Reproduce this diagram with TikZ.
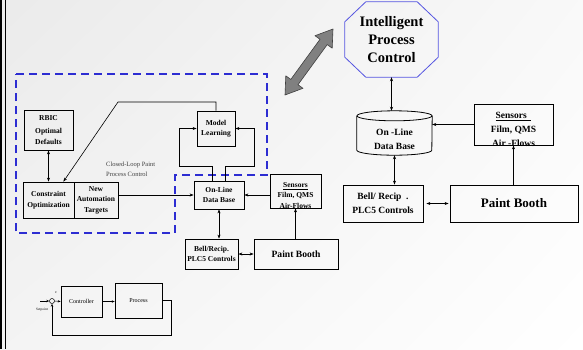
\documentclass[tikz,border=0pt]{standalone}
\usepackage{fontspec}
\setmainfont{Liberation Serif}
\usetikzlibrary{calc}
\usetikzlibrary{arrows.meta}
\usetikzlibrary{shadings}

\definecolor{loopblue}{RGB}{45,45,210}
\definecolor{ipcblue}{RGB}{85,85,225}

% font sizes
\newcommand\fipc{\fontsize{14.5}{18}\selectfont\bfseries}
\newcommand\fbooth{\fontsize{13}{15}\selectfont\bfseries}
\newcommand\fmid{\fontsize{9.5}{14}\selectfont\bfseries}
\newcommand\fsmall{\fontsize{7.5}{10.5}\selectfont\bfseries}
\newcommand\fnote{\fontsize{6.5}{10}\selectfont}
\newcommand\fblock{\fontsize{6}{7}\selectfont}

\tikzset{
  box/.style={draw, line width=0.8pt, inner sep=0pt, align=center},
  txt/.style={inner sep=0pt, align=center},
  flow/.style={line width=0.6pt, -{Stealth[length=4pt,width=3pt]}},
  flow2/.style={line width=0.6pt, {Stealth[length=4pt,width=3pt]}-{Stealth[length=4pt,width=3pt]}},
  flowsm/.style={line width=0.5pt, -{Stealth[length=3pt,width=2.4pt]}},
}

\begin{document}
\begin{tikzpicture}[x=1pt,y=-1pt]
  \useasboundingbox (0,0) rectangle (583,349);
  % slide background and left edge
  \shade[upper left=gray!16, upper right=gray!5, lower left=gray!9, lower right=white] (0,0) rectangle (583,349);
  \fill (0,0) rectangle (1.8,349);
  \fill (4.6,0) rectangle (6,349);

  %% right: intelligent process control
  \node[txt, minimum width=93pt, minimum height=75pt, font=\fipc] (ipc) at (391.5,39.5) {Intelligent\\Process\\Control};
  \draw[ipcblue, line width=0.8pt] ($(ipc.north west)+(21,0)$) -- ($(ipc.north east)+(-21,0)$)
    -- ($(ipc.north east)+(0,20)$) -- ($(ipc.south east)+(0,-20)$)
    -- ($(ipc.south east)+(-21,0)$) -- ($(ipc.south west)+(21,0)$)
    -- ($(ipc.south west)+(0,-20)$) -- ($(ipc.north west)+(0,20)$) -- cycle;

  % fat two-way arrow between the two halves
  \filldraw[fill=gray, draw=black!75, line width=0.6pt, line join=round]
    (333,29) -- (332.2,48.2) -- (327.2,44.6) -- (298.0,84.7) -- (303.0,88.3)
    -- (285,95) -- (285.8,75.8) -- (290.8,79.4) -- (320.0,39.3) -- (315.0,35.7) -- cycle;

  % data base cylinder
  \node[txt, minimum width=75pt, minimum height=44pt] (rdb) at (394.5,133) {};
  \draw[line width=0.8pt] ($(rdb.north west)+(0,5)$) -- ($(rdb.south west)+(0,-5)$)
    arc[start angle=180, end angle=360, x radius=37.5pt, y radius=5pt]
    -- ($(rdb.north east)+(0,5)$);
  \draw[line width=0.8pt] ($(rdb.north)+(0,5)$) ellipse [x radius=37.5pt, y radius=5pt];
  \node[txt, font=\fmid, text depth=0pt] (rdbtxt) at ($(rdb)+(0,6)$) {\fontsize{9.5}{16}\selectfont On -Line\\Data Base};

  \node[box, minimum width=79pt, minimum height=41pt] (rsens) at (513.5,124.5) {};
  \node[txt, font=\fmid] (rsenstxt) at ($(rsens)+(0,5)$) {\underline{Sensors\ \ }\\Film, QMS\\Air -Flows};
  \node[box, minimum width=80pt, minimum height=37pt, font=\fmid] (rbell) at (383,203.5) {\fontsize{9.5}{13}\selectfont Bell/ Recip\ \ .\\PLC5 Controls};
  \node[box, minimum width=128pt, minimum height=37pt, font=\fbooth] (rbooth) at (514,203.5) {Paint Booth};

  \draw[flow2] (ipc.south) -- (ipc.south |- rdb.north);
  \draw[flow] (rsens.west) -- (rsens.west -| rdb.east);
  \draw[flow2] (rdb.south) -- (rdb.south |- rbell.north);
  \draw[flow2, shorten <=3pt, shorten >=1pt] (rbell.east) -- (rbooth.west);
  \draw[flow] (rsens.south |- rbooth.north) -- (rsens.south);

  %% left: closed-loop paint process control
  \draw[loopblue, line width=2.4pt, dash pattern=on 8pt off 5pt]
    (16,74) -- (267,74) -- (267,175) -- (175,175) -- (175,233) -- (16,233) -- cycle;

  \node[box, minimum width=49pt, minimum height=40pt, font=\fsmall] (rbic) at (48.5,130) {\fontsize{7.5}{8.5}\selectfont RBIC\\[3pt]Optimal\\Defaults};
  \node[box, minimum width=51pt, minimum height=36pt, font=\fsmall] (copt) at (48.5,200) {\fontsize{7.5}{10}\selectfont Constraint\\Optimization};
  \node[box, minimum width=44pt, minimum height=36pt, font=\fsmall] (nat) at (96,200) {New\\Automation\\Targets};
  \node[box, minimum width=38pt, minimum height=35pt, font=\fsmall] (model) at (216,128.5) {\fontsize{7.5}{12}\selectfont Model\\Learning};
  \node[box, minimum width=50pt, minimum height=28pt, font=\fsmall] (ldb) at (219,195) {\fontsize{7.5}{12}\selectfont On-Line\\Data Base};
  \node[box, minimum width=51pt, minimum height=34pt] (lsens) at (295.5,191) {};
  \node[txt, font=\fsmall] (lsenstxt) at ($(lsens)+(0,4.5)$) {\fontsize{7.5}{11.5}\selectfont\underline{Sensors}\\Film, QMS\\Air-Flows};
  \node[box, minimum width=53pt, minimum height=30pt, font=\fsmall] (lbell) at (211.5,254) {\fontsize{7.5}{11}\selectfont Bell/Recip.\\PLC5 Controls};
  \node[box, minimum width=84pt, minimum height=30pt, font=\fontsize{9.6}{11}\selectfont\bfseries] (lbooth) at (296,254) {Paint Booth};

  \node[txt, anchor=west, align=left, font=\fnote, text=black!75] (cltxt) at (106,169) {Closed-Loop Paint\\Process Control};

  \coordinate (bend) at (118,102);
  \draw[flow2] (rbic.south) -- (rbic.south |- copt.north);
  \draw[flow] (model.north) |- (bend) -- ($(copt.north east)+(-11,0)$);
  \draw[flow] ($(ldb.north)+(-7,0)$) -- ++(0,-14) -| ($(model.west)+(-17,0)$) -- (model.west);
  \draw[flow] ($(ldb.north)+(6,0)$) -- ++(0,-14) -| ($(model.east)+(19,0)$) -- (model.east);
  \draw[flow] (ldb.west -| nat.east) -- (ldb.west);
  \draw[flow] (ldb.east -| lsens.west) -- (ldb.east);
  \draw[flow2] (ldb.south) -- (ldb.south |- lbell.north);
  \draw[flow2] (lbell.east) -- (lbooth.west);
  \draw[flow] (lsens.south |- lbooth.north) -- (lsens.south);

  %% bottom: simple feedback loop
  \node[draw, line width=0.6pt, inner sep=0pt, minimum width=41pt, minimum height=31pt, font=\fblock] (ctrl) at (81.5,301.5) {Controller};
  \node[draw, line width=0.6pt, inner sep=0pt, minimum width=47pt, minimum height=35pt, font=\fblock] (proc) at (138.5,300.5) {Process};
  \node[circle, draw, line width=0.5pt, inner sep=0pt, minimum size=5pt] (sum) at (52,301) {};
  \node[txt, anchor=east, font=\fontsize{3.5}{4}\selectfont] (setpt) at (48,310) {Setpoint};
  \node[txt, font=\fontsize{4}{4}\selectfont] (err) at (56,293) {c};
  \coordinate (spin) at (40,301);
  \coordinate (fb) at (171,335);
  \draw[flowsm] (spin) -- (sum.west);
  \draw[flowsm] (sum.east) -- (ctrl.west);
  \draw[flowsm] (ctrl.east) -- (ctrl.east -| proc.west);
  \draw[flowsm] (proc.east) -| (fb) -| (sum.south);
\end{tikzpicture}
\end{document}
